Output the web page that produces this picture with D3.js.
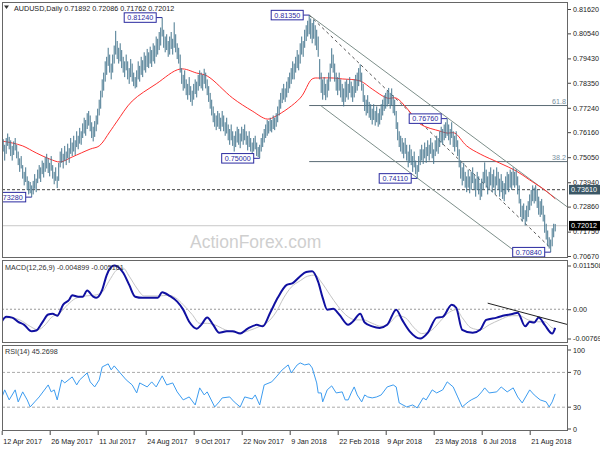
<!DOCTYPE html>
<html><head><meta charset="utf-8">
<script src="https://cdn.jsdelivr.net/npm/d3@7"></script>
<style>body{margin:0;background:#fff}svg{display:block}text{font-family:"Liberation Sans",Arial,sans-serif}</style>
</head><body><svg id="c" width="600" height="450"></svg>
<script>
// ---------- DATA ----------
const highs=[0.7600,0.7585,0.7560,0.7590,0.7610,0.7595,0.7580,0.7555,0.7575,0.7590,
0.7560,0.7530,0.7500,0.7510,0.7470,0.7440,0.7460,0.7420,0.7400,0.7395,
0.7380,0.7400,0.7430,0.7410,0.7450,0.7470,0.7460,0.7490,0.7480,0.7505,
0.7520,0.7500,0.7480,0.7510,0.7470,0.7440,0.7460,0.7420,0.7480,0.7530,
0.7545,0.7520,0.7555,0.7530,0.7565,0.7545,0.7590,0.7570,0.7600,0.7580,
0.7620,0.7600,0.7635,0.7620,0.7655,0.7680,0.7670,0.7700,0.7710,0.7690,
0.7660,0.7640,0.7665,0.7690,0.7720,0.7760,0.7800,0.7850,0.7880,0.7930,
0.7950,0.7990,0.7960,0.7920,0.7960,0.8000,0.8065,0.8020,0.7990,0.8010,
0.7980,0.7950,0.7930,0.7960,0.7930,0.7900,0.7940,0.7920,0.7880,0.7860,
0.7890,0.7930,0.7910,0.7950,0.7935,0.7970,0.7955,0.7985,0.7970,0.7995,
0.7980,0.8010,0.8000,0.8040,0.8030,0.8060,0.8080,0.8124,0.8070,0.8040,
0.8050,0.8020,0.8040,0.8060,0.8030,0.8103,0.8050,0.8010,0.7990,0.7960,
0.7900,0.7870,0.7890,0.7850,0.7830,0.7860,0.7820,0.7800,0.7830,0.7850,
0.7840,0.7870,0.7890,0.7880,0.7870,0.7897,0.7880,0.7850,0.7820,0.7790,
0.7760,0.7730,0.7700,0.7690,0.7710,0.7700,0.7680,0.7710,0.7690,0.7660,
0.7680,0.7650,0.7630,0.7650,0.7620,0.7600,0.7620,0.7640,0.7630,0.7610,
0.7640,0.7630,0.7650,0.7620,0.7600,0.7620,0.7590,0.7570,0.7590,0.7600,
0.7570,0.7550,0.7560,0.7590,0.7610,0.7630,0.7650,0.7670,0.7665,0.7680,
0.7670,0.7690,0.7680,0.7700,0.7730,0.7760,0.7790,0.7810,0.7830,0.7810,
0.7840,0.7860,0.7880,0.7900,0.7930,0.7920,0.7950,0.7980,0.7960,0.8010,
0.8040,0.8020,0.8070,0.8090,0.8110,0.8135,0.8120,0.8100,0.8115,0.8090,
0.8070,0.8040,0.7940,0.7880,0.7850,0.7860,0.7830,0.7850,0.7880,0.7920,
0.7988,0.7960,0.7920,0.7880,0.7860,0.7880,0.7850,0.7830,0.7810,0.7840,
0.7850,0.7830,0.7860,0.7840,0.7820,0.7850,0.7870,0.7880,0.7900,0.7917,
0.7880,0.7830,0.7780,0.7760,0.7780,0.7750,0.7740,0.7720,0.7740,0.7710,
0.7730,0.7700,0.7720,0.7740,0.7760,0.7780,0.7790,0.7800,0.7812,0.7790,
0.7810,0.7780,0.7760,0.7710,0.7660,0.7620,0.7600,0.7590,0.7570,0.7590,
0.7560,0.7530,0.7560,0.7540,0.7510,0.7530,0.7490,0.7470,0.7510,0.7540,
0.7560,0.7540,0.7570,0.7550,0.7580,0.7560,0.7590,0.7570,0.7540,0.7580,
0.7600,0.7590,0.7620,0.7640,0.7630,0.7650,0.7660,0.7676,0.7650,0.7630,
0.7660,0.7620,0.7600,0.7620,0.7580,0.7540,0.7490,0.7460,0.7480,0.7440,
0.7420,0.7450,0.7420,0.7440,0.7460,0.7430,0.7410,0.7440,0.7420,0.7390,
0.7410,0.7440,0.7482,0.7450,0.7420,0.7440,0.7460,0.7430,0.7450,0.7420,
0.7460,0.7440,0.7410,0.7430,0.7400,0.7390,0.7420,0.7440,0.7430,0.7450,
0.7440,0.7460,0.7440,0.7452,0.7420,0.7380,0.7320,0.7290,0.7300,0.7270,
0.7290,0.7310,0.7340,0.7360,0.7380,0.7370,0.7381,0.7360,0.7330,0.7310,
0.7320,0.7290,0.7250,0.7210,0.7180,0.7150,0.7140,0.7190,0.7210,0.7209];
const lows=[0.7545,0.7530,0.7490,0.7520,0.7555,0.7540,0.7510,0.7490,0.7515,0.7535,
0.7500,0.7470,0.7440,0.7455,0.7410,0.7380,0.7395,0.7360,0.7340,0.7345,
0.7328,0.7340,0.7365,0.7350,0.7390,0.7410,0.7395,0.7430,0.7415,0.7440,
0.7455,0.7435,0.7420,0.7445,0.7410,0.7385,0.7400,0.7368,0.7400,0.7460,
0.7480,0.7455,0.7490,0.7470,0.7500,0.7480,0.7520,0.7510,0.7530,0.7515,
0.7550,0.7540,0.7565,0.7560,0.7590,0.7610,0.7600,0.7630,0.7645,0.7620,
0.7590,0.7575,0.7595,0.7620,0.7650,0.7690,0.7720,0.7770,0.7800,0.7840,
0.7870,0.7910,0.7880,0.7850,0.7880,0.7920,0.7960,0.7940,0.7920,0.7930,
0.7900,0.7880,0.7860,0.7890,0.7850,0.7830,0.7860,0.7840,0.7820,0.7810,
0.7815,0.7850,0.7840,0.7870,0.7860,0.7890,0.7880,0.7905,0.7900,0.7920,
0.7905,0.7930,0.7920,0.7950,0.7960,0.7980,0.8000,0.8040,0.7990,0.7970,
0.7980,0.7950,0.7960,0.7985,0.7960,0.7990,0.7970,0.7940,0.7920,0.7880,
0.7830,0.7800,0.7810,0.7780,0.7760,0.7780,0.7750,0.7733,0.7760,0.7785,
0.7770,0.7800,0.7820,0.7810,0.7800,0.7830,0.7810,0.7780,0.7750,0.7720,
0.7690,0.7660,0.7640,0.7625,0.7640,0.7630,0.7620,0.7640,0.7620,0.7600,
0.7610,0.7580,0.7560,0.7580,0.7555,0.7530,0.7550,0.7570,0.7560,0.7545,
0.7575,0.7560,0.7580,0.7560,0.7535,0.7550,0.7530,0.7515,0.7530,0.7540,
0.7510,0.7505,0.7500,0.7530,0.7550,0.7570,0.7590,0.7600,0.7610,0.7620,
0.7615,0.7630,0.7625,0.7640,0.7660,0.7690,0.7720,0.7745,0.7760,0.7750,
0.7770,0.7790,0.7810,0.7830,0.7850,0.7850,0.7880,0.7900,0.7890,0.7920,
0.7960,0.7950,0.7990,0.8020,0.8040,0.8050,0.8030,0.8010,0.8030,0.8000,
0.7980,0.7950,0.7850,0.7790,0.7760,0.7780,0.7758,0.7770,0.7800,0.7840,
0.7900,0.7880,0.7840,0.7800,0.7780,0.7800,0.7770,0.7750,0.7730,0.7750,
0.7770,0.7760,0.7790,0.7770,0.7750,0.7770,0.7790,0.7800,0.7820,0.7840,
0.7800,0.7750,0.7710,0.7690,0.7700,0.7680,0.7670,0.7650,0.7670,0.7645,
0.7660,0.7640,0.7650,0.7670,0.7690,0.7710,0.7720,0.7730,0.7740,0.7720,
0.7735,0.7700,0.7690,0.7630,0.7580,0.7550,0.7530,0.7520,0.7500,0.7520,
0.7490,0.7460,0.7480,0.7470,0.7440,0.7460,0.7430,0.7411,0.7440,0.7470,
0.7490,0.7475,0.7500,0.7480,0.7510,0.7490,0.7520,0.7500,0.7475,0.7510,
0.7530,0.7520,0.7550,0.7570,0.7560,0.7580,0.7590,0.7600,0.7580,0.7560,
0.7590,0.7550,0.7530,0.7550,0.7510,0.7460,0.7410,0.7380,0.7400,0.7370,
0.7350,0.7370,0.7345,0.7360,0.7390,0.7360,0.7330,0.7360,0.7340,0.7315,
0.7330,0.7360,0.7390,0.7370,0.7340,0.7360,0.7380,0.7350,0.7370,0.7340,
0.7380,0.7360,0.7330,0.7350,0.7320,0.7310,0.7340,0.7360,0.7350,0.7370,
0.7360,0.7380,0.7370,0.7380,0.7340,0.7300,0.7240,0.7220,0.7230,0.7202,
0.7220,0.7240,0.7270,0.7290,0.7310,0.7300,0.7310,0.7280,0.7250,0.7240,
0.7250,0.7220,0.7170,0.7140,0.7110,0.7100,0.7084,0.7110,0.7150,0.7176];

const maIdx=[0,7,14,23,32,39,47,59,65,72,77,87,103,119,130,137,154,167,177,183,199,207,212,221,227,239,247,257,263,270,279,292,297,302,310,319,332,343,352,363,369];
const maVal=[0.7577,0.7568,0.7555,0.7524,0.7497,0.7484,0.7506,0.7541,0.7555,0.7617,0.7665,0.7754,0.7830,0.7896,0.7878,0.7865,0.7767,0.7710,0.7674,0.7688,0.7767,0.7852,0.7856,0.7856,0.7852,0.7843,0.7807,0.7767,0.7767,0.7723,0.7652,0.7621,0.7612,0.7612,0.7555,0.7519,0.7479,0.7444,0.7404,0.7355,0.7320];

const macdIdx=[0,3,7,11,15,20,23,27,31,34,37,41,45,47,51,54,57,61,63,67,70,73,75,77,81,85,89,94,104,107,112,117,121,125,130,133,137,141,145,150,154,159,164,170,174,179,184,190,194,199,203,207,211,214,217,221,225,231,234,239,242,247,252,257,263,267,272,279,284,290,294,300,303,307,314,319,323,330,334,341,344,349,352,355,358,362,367,369];
const macdVal=[-0.0033,-0.0020,-0.0022,-0.0033,-0.0041,-0.0058,-0.0056,-0.0035,-0.0014,-0.0012,-0.0017,0.0012,0.0025,0.0037,0.0033,0.0033,0.0049,0.0033,0.0030,0.0051,0.0090,0.0111,0.0115,0.0113,0.0096,0.0064,0.0033,0.0030,0.0030,0.0045,0.0035,0.0020,-0.0001,-0.0033,-0.0051,-0.0041,-0.0022,-0.0041,-0.0062,-0.0058,-0.0058,-0.0064,-0.0051,-0.0041,-0.0045,-0.0009,0.0030,0.0064,0.0069,0.0087,0.0098,0.0100,0.0072,0.0030,-0.0001,0.0001,-0.0014,-0.0041,-0.0033,-0.0012,-0.0035,-0.0045,-0.0049,-0.0041,-0.0001,-0.0028,-0.0058,-0.0077,-0.0062,-0.0022,-0.0020,0.0012,0.0004,-0.0054,-0.0062,-0.0054,-0.0028,-0.0022,-0.0017,-0.0012,-0.0009,-0.0045,-0.0033,-0.0035,-0.0022,-0.0041,-0.0064,-0.0049];
const sigIdx=[0,5,12,19,24,29,33,39,44,49,56,62,67,72,77,81,85,90,95,105,111,116,121,127,132,137,142,149,159,165,172,177,183,188,193,199,204,209,213,219,224,231,236,241,247,253,259,264,269,275,280,287,292,297,303,307,313,319,325,332,340,345,351,357,362,367,369];
const sigVal=[-0.0028,-0.0022,-0.0028,-0.0045,-0.0054,-0.0041,-0.0022,-0.0009,0.0012,0.0028,0.0035,0.0037,0.0045,0.0077,0.0104,0.0108,0.0087,0.0056,0.0035,0.0035,0.0037,0.0030,0.0012,-0.0014,-0.0037,-0.0037,-0.0041,-0.0054,-0.0062,-0.0056,-0.0045,-0.0035,-0.0007,0.0030,0.0058,0.0075,0.0087,0.0090,0.0072,0.0037,0.0009,-0.0020,-0.0028,-0.0028,-0.0037,-0.0045,-0.0035,-0.0017,-0.0022,-0.0049,-0.0064,-0.0054,-0.0033,-0.0012,-0.0001,-0.0022,-0.0049,-0.0054,-0.0041,-0.0028,-0.0017,-0.0017,-0.0028,-0.0033,-0.0033,-0.0049,-0.0052];
const macdTrendIdx=[324,378];
const macdTrendVal=[0.0016,-0.0041];

const rsiIdx=[0,2,5,9,11,14,17,19,22,25,31,33,35,37,40,42,47,50,52,57,59,62,65,67,71,73,75,79,83,87,90,92,97,100,103,107,110,114,117,121,125,129,132,135,137,142,145,147,152,155,159,162,167,169,172,175,180,183,187,191,193,197,199,202,205,207,210,211,213,214,217,220,223,227,229,231,233,235,237,240,242,244,247,250,253,257,261,263,265,270,274,277,281,283,285,287,290,294,297,301,304,307,311,313,317,320,322,325,330,333,337,341,344,347,352,355,359,363,365,367,369];
const rsiVal=[40.7,49.9,38.4,49.9,36.1,47.6,38.4,30.3,36.1,41.8,55.6,47.6,49.9,38.4,61.4,57.9,64.8,55.6,61.4,69.4,59.1,53.3,61.4,76.3,79.8,72.9,77.5,69.4,61.4,55.6,46.4,57.9,53.3,59.1,53.3,66,55.6,57.9,47.6,38.4,41.8,32.6,52.2,44.1,47.6,30.3,36.1,40.7,41.8,36.1,30.3,41.8,39.5,44.1,32.6,55.6,59.1,64.8,72.9,78.6,69.4,78.6,80.9,78.6,79.8,75.2,57.9,46.4,46.4,36.1,49.9,54.5,46.4,47.6,38.4,38.4,46.4,53.3,44.1,36.1,44.1,41.8,40.7,41.8,44.1,53.3,55.6,53.3,34.9,30.3,32.6,29.2,40.7,38.4,44.1,49.9,46.4,49.9,59.1,53.3,41.8,30.3,36.1,38.4,41.8,47.6,52.2,46.4,47.6,53.3,47.6,52.2,41.8,34.9,49.9,44.1,38.4,36.1,30.3,36.1,45.3];

const priceTicks=[0.8162,0.8054,0.7943,0.7835,0.7724,0.7616,0.7505,0.7394,0.7286,0.7175,0.7067];
const macdTicks=[0.011508,0,-0.007694];
const macdTickLabels=["0.011508","0.00","-0.007694"];
const rsiTicks=[100,70,30,0];
const dateLabels=["12 Apr 2017","26 May 2017","11 Jul 2017","24 Aug 2017","9 Oct 2017","22 Nov 2017","9 Jan 2018","22 Feb 2018","9 Apr 2018","23 May 2018","6 Jul 2018","21 Aug 2018"];
const dateIdx=[0,32,64,96,128,160,192,224,256,288,320,352];

const annoText=["0.81240","0.81350","0.75000","0.73280","0.76760","0.74110","0.70840"];
const annoIdx=[107,205,172,20,297,277,366];
const annoPrice=[0.8124,0.8135,0.7500,0.7328,0.7676,0.7411,0.7084];

const fibLabels=["61.8","38.2"];
const fibPrice=[0.7734,0.74855];
const fibStartIdx=205;
const resistLevel=0.7361;
const lastPrice=0.72012;
const chanUpperIdx=[205,378], chanUpperVal=[0.8135,0.7280];
const chanLowerIdx=[213,341], chanLowerVal=[0.7732,0.7094];
const chanMidIdx=[205,366], chanMidVal=[0.8135,0.7102];

const headerText="AUDUSD,Daily  0.71892 0.72086 0.71762 0.72012";
const macdText="MACD(12,26,9) -0.004899 -0.005161";
const rsiText="RSI(14) 45.2698";

// ---------- DRAW ----------
const svg=d3.select("#c");
const FS=7.2;
const L=2,R=568;
const P={top:2,bot:258}, M={top:260,bot:343}, Q={top:345,bot:431};
const x=d3.scaleLinear().domain([0,378]).range([1.7,568.7]);
const yP=d3.scaleLinear().domain([0.7067,0.8162]).range([256,9]);
const yM=d3.scaleLinear().domain([-0.007694,0.011508]).range([338.5,265.5]);
const yR=d3.scaleLinear().domain([0,100]).range([433.3,346.3]);

svg.append("rect").attr("width",600).attr("height",450).attr("fill","#fff");
const defs=svg.append("defs");
[["cp",P],["cm",M],["cr",Q]].forEach(([id,p])=>{
  defs.append("clipPath").attr("id",id).append("rect").attr("x",L).attr("y",p.top).attr("width",R-L).attr("height",p.bot-p.top);
});

// price panel
const gp=svg.append("g").attr("clip-path","url(#cp)");
gp.append("text").attr("x",190).attr("y",248).attr("font-size",17.5).attr("fill","#cfcfcf").text("ActionForex.com");
gp.append("line").attr("x1",L).attr("x2",R).attr("y1",yP(lastPrice)).attr("y2",yP(lastPrice)).attr("stroke","#c8c8c8");
gp.append("line").attr("x1",L).attr("x2",R).attr("y1",yP(resistLevel)).attr("y2",yP(resistLevel)).attr("stroke","#444").attr("stroke-dasharray","3,2");
fibPrice.forEach((p,k)=>{
  gp.append("line").attr("x1",x(fibStartIdx)).attr("x2",R).attr("y1",yP(p)).attr("y2",yP(p)).attr("stroke","#5a6b74");
  gp.append("text").attr("x",566).attr("y",yP(p)-2).attr("text-anchor","end").attr("font-size",FS).attr("fill","#7890a0").text(fibLabels[k]);
});
const seg=(idx,val,ys)=>idx.map((d,k)=>[x(d),ys(val[k])]);
gp.append("path").attr("d",d3.line()(seg(chanUpperIdx,chanUpperVal,yP))).attr("stroke","#7d8f8a").attr("fill","none");
gp.append("path").attr("d",d3.line()(seg(chanLowerIdx,chanLowerVal,yP))).attr("stroke","#7d8f8a").attr("fill","none");
gp.append("path").attr("d",d3.line()(seg(chanMidIdx,chanMidVal,yP))).attr("stroke","#555").attr("stroke-dasharray","3,3").attr("fill","none");
gp.append("path").attr("d",d3.line().curve(d3.curveCatmullRom)(seg(maIdx,maVal,yP))).attr("stroke","#ff3030").attr("fill","none");
gp.selectAll("line.bar").data(highs).join("line").attr("class","bar")
  .attr("x1",(d,i)=>x(i)).attr("x2",(d,i)=>x(i))
  .attr("y1",d=>yP(d)).attr("y2",(d,i)=>yP(lows[i]))
  .attr("stroke","#47778f").attr("stroke-width",1);
annoText.forEach((t,k)=>{
  const bx=x(annoIdx[k]), by=yP(annoPrice[k]);
  const w=32,h=9.5;
  gp.append("line").attr("x1",bx-6).attr("x2",bx).attr("y1",by).attr("y2",by).attr("stroke","#2a2aa0");
  gp.append("rect").attr("x",bx-6-w).attr("y",by-h/2).attr("width",w).attr("height",h).attr("fill","#fff").attr("stroke","#2a2aa0");
  gp.append("text").attr("x",bx-6-w/2).attr("y",by+2.6).attr("text-anchor","middle").attr("font-size",FS).attr("fill","#2a2aa0").text(t);
});

// MACD panel
const gm=svg.append("g").attr("clip-path","url(#cm)");
gm.append("line").attr("x1",L).attr("x2",R).attr("y1",yM(0)).attr("y2",yM(0)).attr("stroke","#999").attr("stroke-dasharray","2,2");
gm.append("path").attr("d",d3.line().curve(d3.curveMonotoneX)(seg(sigIdx,sigVal,yM))).attr("stroke","#c4c4c4").attr("fill","none");
gm.append("path").attr("d",d3.line().curve(d3.curveMonotoneX)(seg(macdIdx,macdVal,yM))).attr("stroke","#1010a0").attr("stroke-width",2).attr("fill","none");
gm.append("path").attr("d",d3.line()(seg(macdTrendIdx,macdTrendVal,yM))).attr("stroke","#222").attr("fill","none");
gm.append("text").attr("x",5).attr("y",270).attr("font-size",FS).attr("fill","#333").text(macdText);

// RSI panel
const gr=svg.append("g").attr("clip-path","url(#cr)");
[70,30].forEach(v=>gr.append("line").attr("x1",L).attr("x2",R).attr("y1",yR(v)).attr("y2",yR(v)).attr("stroke","#aaa").attr("stroke-dasharray","3,2"));
gr.append("path").attr("d",d3.line()(seg(rsiIdx,rsiVal,yR))).attr("stroke","#3c9cf0").attr("fill","none");
gr.append("text").attr("x",5).attr("y",354).attr("font-size",FS).attr("fill","#333").text(rsiText);

// frames
[P,M,Q].forEach(p=>svg.append("rect").attr("x",L+0.5).attr("y",p.top+0.5).attr("width",R-L-1).attr("height",p.bot-p.top-1).attr("fill","none").attr("stroke","#666"));

// header
svg.append("path").attr("d","M4,5.5L9,5.5L6.5,9Z").attr("fill","#333");
svg.append("text").attr("x",14).attr("y",11).attr("font-size",FS).attr("fill","#222").text(headerText);

// axes
function styleAxis(g){g.select(".domain").remove();g.selectAll("text").attr("font-size",FS).attr("fill","#222").attr("font-family",'"Liberation Sans",Arial,sans-serif');g.selectAll("line").attr("stroke","#444");}
svg.append("g").attr("transform",`translate(${R},0)`).call(d3.axisRight(yP).tickValues(priceTicks).tickSize(3).tickPadding(2).tickFormat(d3.format(".5f"))).call(styleAxis);
svg.append("g").attr("transform",`translate(${R},0)`).call(d3.axisRight(yM).tickValues(macdTicks).tickSize(3).tickPadding(2).tickFormat((d,i)=>macdTickLabels[i])).call(styleAxis);
const ra=svg.append("g").attr("transform",`translate(${R},0)`);
rsiTicks.forEach(v=>{
  const yy=Math.max(350,Math.min(429,yR(v)));
  ra.append("line").attr("x1",0).attr("x2",3).attr("y1",yy).attr("y2",yy).attr("stroke","#444");
  ra.append("text").attr("x",5).attr("y",yy+2.5).attr("font-size",FS).attr("fill","#222").text(v);
});
const xa=svg.append("g").attr("transform",`translate(0,${Q.bot})`).call(d3.axisBottom(x).tickValues(dateIdx).tickSize(4).tickPadding(4).tickFormat((d,i)=>dateLabels[i])).call(styleAxis);
xa.selectAll("text").attr("text-anchor","start").attr("dx",1);

// right-axis value boxes
[[resistLevel,"#3b5766"],[lastPrice,"#000"]].forEach(([v,c])=>{
  const yy=yP(v);
  svg.append("rect").attr("x",R+1).attr("y",yy-4.8).attr("width",31).attr("height",9.6).attr("fill",c);
  svg.append("text").attr("x",R+3).attr("y",yy+2.6).attr("font-size",FS).attr("fill","#fff").text(d3.format(".5f")(v));
});
</script></body></html>
